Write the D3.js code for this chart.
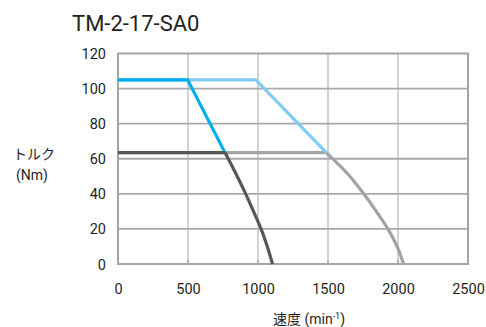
<!DOCTYPE html>
<html>
<head>
<meta charset="utf-8">
<script src="https://cdn.jsdelivr.net/npm/d3@7"></script>
<style>
  html, body { margin: 0; padding: 0; background: #fff; }
  svg text { font-family: Roboto, "Noto Sans CJK JP", sans-serif; fill: #231f20; }
</style>
</head>
<body>
<svg id="chart" width="486" height="327"></svg>
<script>
// Torque–speed characteristic, TM-2-17-SA0
const title = "TM-2-17-SA0";
const xTicks = [0, 500, 1000, 1500, 2000, 2500];
const yTicks = [0, 20, 40, 60, 80, 100, 120];

// Each series: [speed min^-1, torque Nm]
const peakHigh = [[0, 105], [985, 105], [1488, 63.5]];            // light blue
const peakLow = [[0, 105], [497, 105], [764, 63.5]];              // blue
const contHighFlat = [[0, 63.5], [1488, 63.5]];                   // gray plateau
const contHighCurve = [[1488, 63.5], [1645, 51], [1755, 40], [1845, 30], [1928, 20], [1993, 10], [2040, 0]];
const contLowFlat = [[0, 63.5], [764, 63.5]];                     // dark plateau
const contLowCurve = [[764, 63.5], [845, 51], [912, 40], [968, 30], [1022, 20], [1066, 10], [1104, 0]];

const svg = d3.select("#chart");
const x = d3.scaleLinear().domain([0, 2500]).range([118, 468]);
const y = d3.scaleLinear().domain([0, 120]).range([264, 53.5]);

// grid
svg.append("g").selectAll("line").data(xTicks.slice(1, -1)).join("line")
  .attr("x1", d => x(d)).attr("x2", d => x(d))
  .attr("y1", y(120)).attr("y2", y(0))
  .attr("stroke", "#c3c5c7").attr("stroke-width", 1.5);
svg.append("g").selectAll("line").data(xTicks.slice(1, -1)).join("line")
  .attr("x1", d => x(d)).attr("x2", d => x(d))
  .attr("y1", y(0) - 4).attr("y2", y(0))
  .attr("stroke", "#a7a9ac").attr("stroke-width", 1.5);
svg.append("g").selectAll("line").data(yTicks.slice(1, -1)).join("line")
  .attr("x1", x(0)).attr("x2", x(2500))
  .attr("y1", d => y(d)).attr("y2", d => y(d))
  .attr("stroke", "#a7a9ac").attr("stroke-width", 1.8);
svg.append("rect")
  .attr("x", x(0)).attr("y", y(120))
  .attr("width", x(2500) - x(0)).attr("height", y(0) - y(120))
  .attr("fill", "none").attr("stroke", "#a2a4a7").attr("stroke-width", 2);

// axis labels
const xAxis = d3.axisBottom(x).tickValues(xTicks).tickFormat(d3.format("d")).tickSize(0).tickPadding(0);
const gx = svg.append("g").attr("transform", `translate(0,${y(0)})`).call(xAxis);
gx.select(".domain").remove();
gx.selectAll("text").attr("dy", null).attr("y", 30).style("font-size", "14.5px").attr("fill", "#231f20");

const yAxis = d3.axisLeft(y).tickValues(yTicks).tickFormat(d3.format("d")).tickSize(0).tickPadding(0);
const gy = svg.append("g").attr("transform", "translate(106,0)").call(yAxis);
gy.select(".domain").remove();
gy.selectAll("text").attr("dy", "0.35em").attr("x", 0).style("font-size", "14.5px").attr("fill", "#231f20");

// curves
const lin = d3.line().x(d => x(d[0])).y(d => y(d[1]));
const smooth = d3.line().x(d => x(d[0])).y(d => y(d[1])).curve(d3.curveCatmullRom.alpha(0.5));
const stroke = (sel, c) => sel.attr("fill", "none").attr("stroke", c).attr("stroke-width", 3.2)
  .attr("stroke-linejoin", "round");

svg.append("path").attr("d", lin(contHighFlat)).call(stroke, "#a1a3a5");
svg.append("path").attr("d", smooth(contHighCurve)).call(stroke, "#a1a3a5");
svg.append("path").attr("d", lin(peakHigh)).call(stroke, "#80cdf1");
svg.append("path").attr("d", lin(peakLow)).call(stroke, "#00aeef");
svg.append("path").attr("d", lin(contLowFlat)).call(stroke, "#565759");
svg.append("path").attr("d", smooth(contLowCurve)).call(stroke, "#565759");

// titles
svg.append("text").attr("x", 72).attr("y", 31).style("font-size", "22px").text(title);
svg.append("text").attr("x", 34).attr("y", 159).attr("text-anchor", "middle").style("font-size", "14px").text("トルク");
svg.append("text").attr("x", 32).attr("y", 180).attr("text-anchor", "middle").style("font-size", "14px").text("(Nm)");
const xl = svg.append("text").attr("x", 309).attr("y", 324).attr("text-anchor", "middle").style("font-size", "14px");
xl.append("tspan").text("速度 (min");
xl.append("tspan").attr("dy", -5).style("font-size", "9px").text("-1");
xl.append("tspan").attr("dy", 5).text(")");
</script>
</body>
</html>
